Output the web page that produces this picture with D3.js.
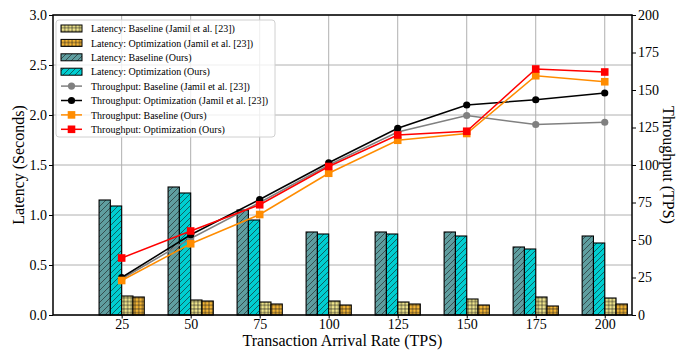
<!DOCTYPE html>
<html>
<head>
  <meta charset="utf-8">
  <title>Latency and Throughput</title>
  <script src="https://cdn.jsdelivr.net/npm/d3@7"></script>
  <style>
    body { margin: 0; background: #fff; }
    svg { font-family: "Liberation Serif", "Times New Roman", serif; }
  </style>
</head>
<body>
<svg id="chart" width="684" height="350"></svg>
<script>
  // categories (transaction arrival rate)
  var rates = [25, 50, 75, 100, 125, 150, 175, 200];

  // latency in seconds
  var latBaseOurs = [1.15, 1.28, 1.05, 0.83, 0.83, 0.83, 0.68, 0.79];
  var latOptOurs = [1.09, 1.22, 0.95, 0.81, 0.81, 0.79, 0.66, 0.72];
  var latBaseJamil = [0.19, 0.15, 0.13, 0.14, 0.13, 0.16, 0.18, 0.17];
  var latOptJamil = [0.18, 0.14, 0.11, 0.10, 0.11, 0.10, 0.09, 0.11];

  // throughput in TPS
  var tpBaseJamil = [24, 51, 75, 100, 122, 133, 127, 128.5];
  var tpOptJamil = [25, 53.5, 77, 101.5, 124.5, 140, 143.5, 148];
  var tpBaseOurs = [23, 47.5, 67, 94.5, 116.5, 121, 159.5, 155.5];
  var tpOptOurs = [38, 56, 73.5, 99, 120, 122.5, 164, 162];

  var latTicks = [0, 0.5, 1.0, 1.5, 2.0, 2.5, 3.0];
  var tpTicks = [0, 25, 50, 75, 100, 125, 150, 175, 200];

  var svg = d3.select('#chart');
  // plot box (note: "top" is reserved on window)
  var pL = 53, pR = 632, pT = 15, pB = 315;

  var x = d3.scaleLinear().domain([-0.995, 7.395]).range([pL, pR]);
  var yLat = d3.scaleLinear().domain([0, 3]).range([pB, pT]);
  var yTp = d3.scaleLinear().domain([0, 200]).range([pB, pT]);
  var barW = 11.3;

  // hatch patterns
  var defs = svg.append('defs');
  function diag(id, fill) {
    var p = defs.append('pattern').attr('id', id)
      .attr('patternUnits', 'userSpaceOnUse')
      .attr('width', 6).attr('height', 6);
    p.append('rect').attr('width', 6).attr('height', 6).attr('fill', fill);
    p.append('path').attr('d', 'M0,6 L6,0 M-1.5,1.5 L1.5,-1.5 M4.5,7.5 L7.5,4.5')
      .attr('stroke', '#1a1a1a').attr('stroke-width', 0.6);
  }
  function cross(id, fill) {
    var p = defs.append('pattern').attr('id', id)
      .attr('patternUnits', 'userSpaceOnUse')
      .attr('width', 3.7).attr('height', 3.7);
    p.append('rect').attr('width', 3.7).attr('height', 3.7).attr('fill', fill);
    p.append('path').attr('d', 'M1.85,0 V3.7 M0,1.85 H3.7')
      .attr('stroke', '#1a1a1a').attr('stroke-width', 0.6);
  }
  diag('hTeal', '#5f9ea0');
  diag('hCyan', '#00ced1');
  cross('hKhaki', '#f0e68c');
  cross('hGold', '#f7b733');

  // grid
  svg.append('g').selectAll('line').data(latTicks).enter().append('line')
    .attr('x1', pL).attr('x2', pR)
    .attr('y1', function(d) { return yLat(d); })
    .attr('y2', function(d) { return yLat(d); })
    .attr('stroke', '#b0b0b0').attr('stroke-width', 1);
  svg.append('g').selectAll('line').data(rates).enter().append('line')
    .attr('x1', function(d, i) { return x(i); })
    .attr('x2', function(d, i) { return x(i); })
    .attr('y1', pT).attr('y2', pB)
    .attr('stroke', '#b0b0b0').attr('stroke-width', 1);

  // bars
  var barSeries = [
    {vals: latBaseOurs, fill: 'url(#hTeal)', off: -2},
    {vals: latOptOurs, fill: 'url(#hCyan)', off: -1},
    {vals: latBaseJamil, fill: 'url(#hKhaki)', off: 0},
    {vals: latOptJamil, fill: 'url(#hGold)', off: 1}
  ];
  barSeries.forEach(function(s) {
    svg.append('g').selectAll('rect').data(s.vals).enter().append('rect')
      .attr('x', function(d, i) { return x(i) + s.off * barW; })
      .attr('y', function(d) { return yLat(d); })
      .attr('width', barW)
      .attr('height', function(d) { return pB - yLat(d); })
      .attr('fill', s.fill)
      .attr('stroke', '#000').attr('stroke-width', 1.1);
  });

  // throughput lines
  var lineSeries = [
    {vals: tpBaseJamil, color: 'gray', shape: 'circle'},
    {vals: tpOptJamil, color: 'black', shape: 'circle'},
    {vals: tpBaseOurs, color: 'darkorange', shape: 'square'},
    {vals: tpOptOurs, color: 'red', shape: 'square'}
  ];
  var line = d3.line()
    .x(function(d, i) { return x(i); })
    .y(function(d) { return yTp(d); });

  function marker(g, shape, color, cx, cy) {
    if (shape === 'circle') {
      g.append('circle').attr('cx', cx).attr('cy', cy).attr('r', 3.6).attr('fill', color);
    } else {
      g.append('rect').attr('x', cx - 3.8).attr('y', cy - 3.8)
        .attr('width', 7.6).attr('height', 7.6).attr('fill', color);
    }
  }

  lineSeries.forEach(function(s) {
    var g = svg.append('g');
    g.append('path').datum(s.vals).attr('d', line)
      .attr('fill', 'none').attr('stroke', s.color).attr('stroke-width', 1.5);
    s.vals.forEach(function(v, i) { marker(g, s.shape, s.color, x(i), yTp(v)); });
  });

  // axes
  var axL = svg.append('g').attr('transform', 'translate(' + pL + ',0)')
    .call(d3.axisLeft(yLat).tickValues(latTicks).tickFormat(d3.format('.1f')).tickSize(4).tickPadding(2));
  var axR = svg.append('g').attr('transform', 'translate(' + pR + ',0)')
    .call(d3.axisRight(yTp).tickValues(tpTicks).tickSize(4).tickPadding(2));
  var axB = svg.append('g').attr('transform', 'translate(0,' + pB + ')')
    .call(d3.axisBottom(x).tickValues(d3.range(rates.length))
      .tickFormat(function(i) { return rates[i]; }).tickSize(3.5).tickPadding(1));
  [axL, axR, axB].forEach(function(a) {
    a.select('.domain').remove();
    a.selectAll('text').attr('font-size', 14).attr('fill', '#000')
      .attr('font-family', '"Liberation Serif", serif');
    a.selectAll('line').attr('stroke', '#000');
  });

  // frame
  svg.append('rect').attr('x', pL).attr('y', pT)
    .attr('width', pR - pL).attr('height', pB - pT)
    .attr('fill', 'none').attr('stroke', '#000').attr('stroke-width', 1.5);

  // axis titles
  svg.append('text').attr('x', (pL + pR) / 2).attr('y', 346)
    .attr('text-anchor', 'middle').attr('font-size', 16)
    .text('Transaction Arrival Rate (TPS)');
  svg.append('text').attr('transform', 'translate(24,165) rotate(-90)')
    .attr('text-anchor', 'middle').attr('font-size', 16)
    .text('Latency (Seconds)');
  svg.append('text').attr('transform', 'translate(663,165) rotate(90)')
    .attr('text-anchor', 'middle').attr('font-size', 16)
    .text('Throughput (TPS)');

  // legend
  var legItems = [
    {label: 'Latency: Baseline (Jamil et al. [23])', fill: 'url(#hKhaki)'},
    {label: 'Latency: Optimization (Jamil et al. [23])', fill: 'url(#hGold)'},
    {label: 'Latency: Baseline (Ours)', fill: 'url(#hTeal)'},
    {label: 'Latency: Optimization (Ours)', fill: 'url(#hCyan)'},
    {label: 'Throughput: Baseline (Jamil et al. [23])', color: 'gray', shape: 'circle'},
    {label: 'Throughput: Optimization (Jamil et al. [23])', color: 'black', shape: 'circle'},
    {label: 'Throughput: Baseline (Ours)', color: 'darkorange', shape: 'square'},
    {label: 'Throughput: Optimization (Ours)', color: 'red', shape: 'square'}
  ];
  var leg = svg.append('g');
  leg.append('rect').attr('x', 56).attr('y', 20).attr('width', 219).attr('height', 117)
    .attr('rx', 3).attr('fill', 'rgba(255,255,255,0.8)')
    .attr('stroke', '#d0d0d0').attr('stroke-width', 1);
  legItems.forEach(function(it, i) {
    var cy = 28.5 + i * 14.4;
    if (it.fill) {
      leg.append('rect').attr('x', 61).attr('y', cy - 3.5).attr('width', 21).attr('height', 7)
        .attr('fill', it.fill).attr('stroke', '#000').attr('stroke-width', 1);
    } else {
      leg.append('line').attr('x1', 61).attr('x2', 82).attr('y1', cy).attr('y2', cy)
        .attr('stroke', it.color).attr('stroke-width', 1.5);
      marker(leg, it.shape, it.color, 71.5, cy);
    }
    leg.append('text').attr('x', 91).attr('y', cy + 3.6)
      .attr('font-size', 10).text(it.label);
  });
</script>
</body>
</html>
